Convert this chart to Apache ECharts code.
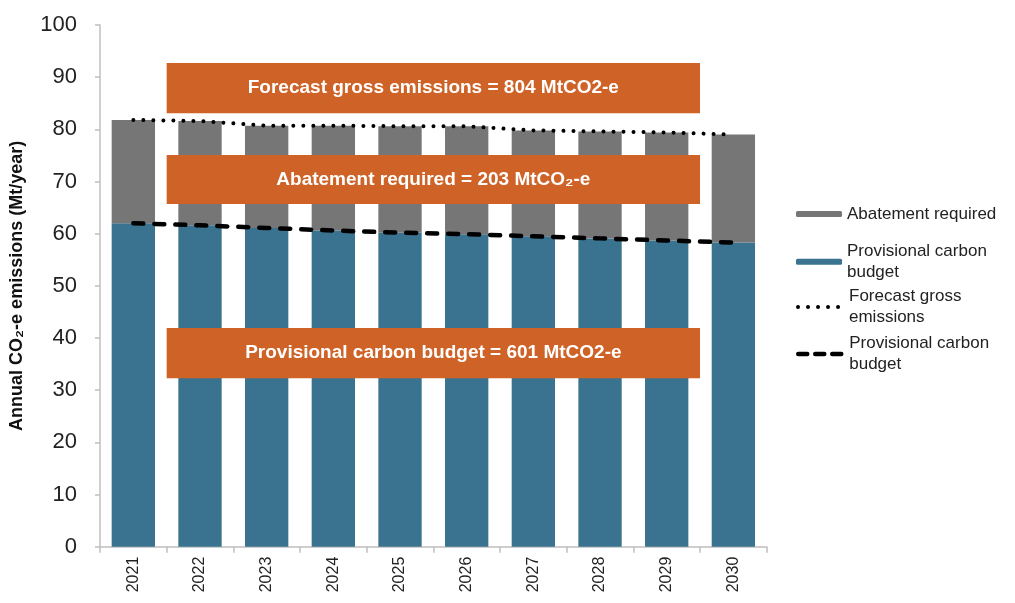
<!DOCTYPE html>
<html>
<head>
<meta charset="utf-8">
<script src="https://cdn.jsdelivr.net/npm/echarts@6/dist/echarts.min.js"></script>
<style>
html,body{margin:0;padding:0;background:#fff;}
#chart{width:1015px;height:603px;}
</style>
</head>
<body>
<div id="chart"></div>
<script>
// ---- data ----
const years = ['2021','2022','2023','2024','2025','2026','2027','2028','2029','2030'];
const budget = [62.0, 61.6, 61.1, 60.6, 60.2, 59.9, 59.5, 59.1, 58.7, 58.3];
const abatement = [19.8, 20.0, 19.6, 20.1, 20.4, 20.7, 20.3, 20.5, 20.7, 20.7];
const grossForecast = [81.8, 81.6, 80.7, 80.7, 80.6, 80.6, 79.8, 79.6, 79.4, 79.0];
const yTicks = [0, 10, 20, 30, 40, 50, 60, 70, 80, 90, 100];
const boxTexts = ['Forecast gross emissions = 804 MtCO2-e', 'Abatement required = 203 MtCO\u2082-e', 'Provisional carbon budget = 601 MtCO2-e'];

// ---- annotation placement (data units) ----
const boxSpans = [
  {from: '2022', to: '2029', top: 92.7, bottom: 83.1},
  {from: '2022', to: '2029', top: 75.1, bottom: 65.7},
  {from: '2022', to: '2029', top: 41.9, bottom: 32.3}
];

const BLUE = '#39738f', GREY = '#767676', ORANGE = '#cf6226';
const FONT = '"Liberation Sans", Arial, "DejaVu Sans", sans-serif';
const DOTTED = {color: '#000', width: 4, type: [0.01, 10], cap: 'round'};
const DASHED = {color: '#000', width: 4.5, type: [10, 11], cap: 'round'};

const chart = echarts.init(document.getElementById('chart'), null, {renderer: 'canvas'});

const legendNames = {
  'Abatement required': 'Abatement required',
  'Provisional carbon budget': 'Provisional carbon\nbudget',
  'Forecast gross emissions': 'Forecast gross\nemissions',
  'Provisional carbon budget line': 'Provisional carbon\nbudget'
};
function mkLegend(name, top, twoLine, lineStyle) {
  const l = {
    data: [name], orient: 'vertical', left: 796, top: top, padding: 0,
    itemWidth: 46, itemHeight: 6, selectedMode: false,
    formatter: n => legendNames[n],
    textStyle: {fontFamily: FONT, fontSize: 17, color: '#222', lineHeight: 21.5,
      padding: twoLine ? [21, 0, 0, 0] : 0}
  };
  if (lineStyle) {
    l.itemStyle = {opacity: 0};
    l.lineStyle = Object.assign({}, lineStyle, {type: lineStyle === DOTTED ? [0.01, 10] : [9, 8]});
  }
  return l;
}

const option = {
  animation: false,
  backgroundColor: '#fff',
  grid: {left: 100, right: 248.3, top: 25, bottom: 56.3, containLabel: false, outerBoundsMode: 'none'},
  legend: [
    mkLegend('Abatement required', 203.2, false, null),
    mkLegend('Provisional carbon budget', 261.7 - 32, true, null),
    mkLegend('Forecast gross emissions', 307 - 32, true, DOTTED),
    mkLegend('Provisional carbon budget line', 354 - 32, true, DASHED)
  ],
  xAxis: {
    type: 'category', data: years,
    axisLine: {lineStyle: {color: '#bfbfbf', width: 1.5}},
    axisTick: {show: true, alignWithLabel: false, length: 6, lineStyle: {color: '#bfbfbf', width: 1.5}},
    axisLabel: {rotate: 90, fontFamily: FONT, fontSize: 16, color: '#222', margin: 10}
  },
  yAxis: {
    type: 'value', min: yTicks[0], max: yTicks[yTicks.length - 1], interval: 10,
    name: 'Annual CO\u2082-e emissions (Mt/year)', nameLocation: 'middle', nameGap: 74,
    nameTextStyle: {fontFamily: FONT, fontSize: 18, fontWeight: 'bold', color: '#111'},
    axisLine: {show: true, lineStyle: {color: '#bfbfbf', width: 1.5}},
    axisTick: {show: true, length: 5, lineStyle: {color: '#bfbfbf', width: 1.5}},
    splitLine: {show: false},
    axisLabel: {fontFamily: FONT, fontSize: 22, color: '#222', margin: 23}
  },
  series: [
    {name: 'Provisional carbon budget', type: 'bar', stack: 'total', data: budget,
      barWidth: '65%', itemStyle: {color: BLUE}},
    {name: 'Abatement required', type: 'bar', stack: 'total', data: abatement,
      barWidth: '65%', itemStyle: {color: GREY}},
    {name: 'Forecast gross emissions', type: 'line', data: grossForecast, symbol: 'none', z: 5,
      itemStyle: {color: '#000'}, lineStyle: DOTTED},
    {name: 'Provisional carbon budget line', type: 'line', data: budget, symbol: 'none', z: 5,
      itemStyle: {color: '#000'}, lineStyle: DASHED}
  ]
};
chart.setOption(option);

// orange annotation boxes, placed through the axes
const catW = chart.convertToPixel({xAxisIndex: 0}, years[1]) - chart.convertToPixel({xAxisIndex: 0}, years[0]);
const elements = boxSpans.map((b, i) => {
  const x1 = chart.convertToPixel({xAxisIndex: 0}, b.from) - catW / 2;
  const x2 = chart.convertToPixel({xAxisIndex: 0}, b.to) + catW / 2;
  const y1 = chart.convertToPixel({yAxisIndex: 0}, b.top);
  const y2 = chart.convertToPixel({yAxisIndex: 0}, b.bottom);
  return {
    type: 'group', z: 100,
    children: [
      {type: 'rect', shape: {x: x1, y: y1, width: x2 - x1, height: y2 - y1}, style: {fill: ORANGE}, z: 100},
      {type: 'text', x: (x1 + x2) / 2, y: (y1 + y2) / 2, z: 101,
        style: {text: boxTexts[i], fill: '#fff', fontFamily: FONT,
          fontWeight: 'bold', fontSize: 19, align: 'center', verticalAlign: 'middle'}}
    ]
  };
});
chart.setOption({graphic: {elements: elements}});
</script>
</body>
</html>
